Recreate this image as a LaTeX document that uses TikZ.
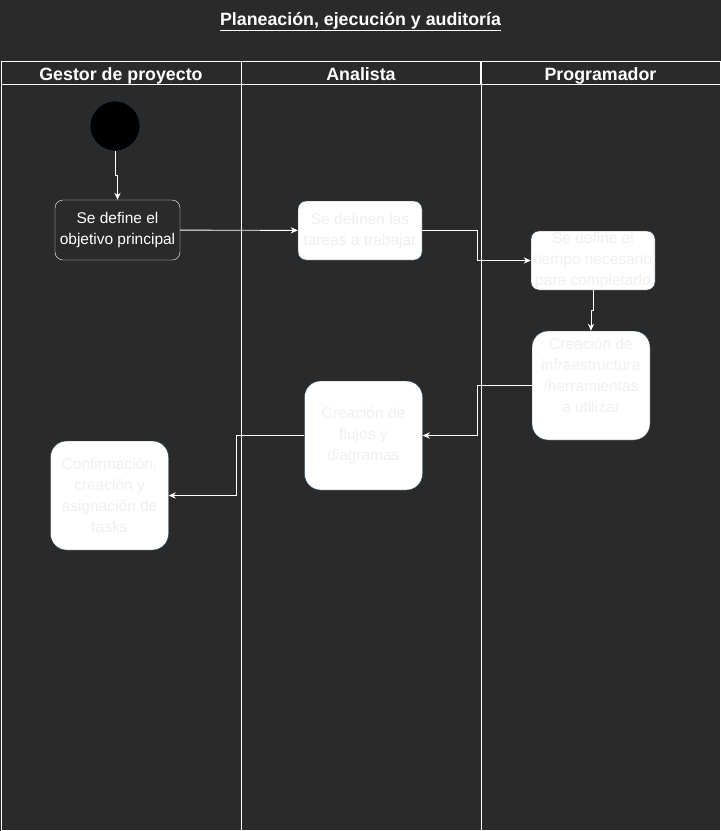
\documentclass[tikz,border=0pt]{standalone}
\usepackage{fontspec}
\setmainfont{Liberation Sans}
\usepackage{xcolor}
\usetikzlibrary{positioning,arrows.meta,calc}
\definecolor{bgdark}{HTML}{2A2A2A}
\definecolor{boxedge}{HTML}{23445D}
\definecolor{boxtext}{HTML}{F0F0F0}
\begin{document}
\begin{tikzpicture}[
      x=1pt, y=-1pt,
      every node/.style={align=center, font=\fontsize{15.5}{21}\selectfont},
      lanehead/.style={draw=white, minimum width=240pt, minimum height=23pt,
                       inner sep=0pt, text=white, text height=18pt, text depth=3pt,
                       font=\fontsize{17.8}{20}\selectfont\bfseries},
      act/.style={draw=white, fill=bgdark, text=white, rounded corners=8pt,
                  inner sep=0pt, minimum width=125pt, minimum height=60pt},
      task/.style={draw=boxedge, fill=white, text=boxtext, rounded corners=8pt,
                   inner sep=0pt, minimum width=124pt, minimum height=59pt},
      bigtask/.style={task, rounded corners=16pt,
                      minimum width=118pt, minimum height=109pt},
      flow/.style={-{Stealth[length=2.5mm, width=2.2mm]}, draw=white, line width=0.9pt},
  ]

  % Canvas
  \fill[bgdark] (0,0) rectangle (721,831);
  \useasboundingbox (0,0) rectangle (721,831);

  % Title
  \node[text=white, font=\fontsize{17.8}{20}\selectfont\bfseries] (title) at (360.5,21.5)
       {\underline{Planeación, ejecución y auditoría}};

  % Lanes
  \node[lanehead] (gestor)   at (121,72.5) {Gestor de proyecto};
  \node[lanehead] (analista) at (361,72.5) {Analista};
  \node[lanehead] (prog)     at (600.5,72.5) {Programador};
  \draw[white, line width=0.8pt] (1,84) rectangle (241,830);
  \draw[white, line width=0.8pt] (241,84) rectangle (481,830);
  \draw[white, line width=0.8pt] (481,84) rectangle (720,830);

  % Activities
  \node[circle, draw=boxedge, fill=black, minimum size=50pt, inner sep=0pt] (start) at (115,126) {};
  \node[act]     (objetivo) at (117.5,230)   {Se define el\\objetivo principal};
  \node[task]    (tareas)   at (360,230.5)   {Se definen las\\tareas a trabajar};
  \node[task]    (tiempo)   at (593,260.5)   {Se define el\\tiempo necesario\\para completarlo};
  \node[bigtask] (infra)    at (591,385.5)   {Creación de\\infraestructura\\/herramientas\\a utilizar\\\mbox{}};
  \node[bigtask] (flujos)   at (363.5,435.5) {Creación de\\flujos y\\diagramas};
  \node[bigtask] (confirm)  at (109.5,495.5) {Confirmación,\\creación y\\asignación de\\tasks};

  % Control flow
  \draw[flow] (start.south) -- ++(0,24) -| (objetivo.north);
  \draw[flow] (objetivo) -- (tareas);
  \draw[flow] (tareas.east) -- ++(55,0) |- (tiempo.west);
  \draw[flow] (tiempo.south) -- ++(0,20) -| (infra.north);
  \draw[flow] (infra.west) -- ++(-54,0) |- (flujos.east);
  \draw[flow] (flujos.west) -- ++(-68,0) |- (confirm.east);

\end{tikzpicture}
\end{document}
